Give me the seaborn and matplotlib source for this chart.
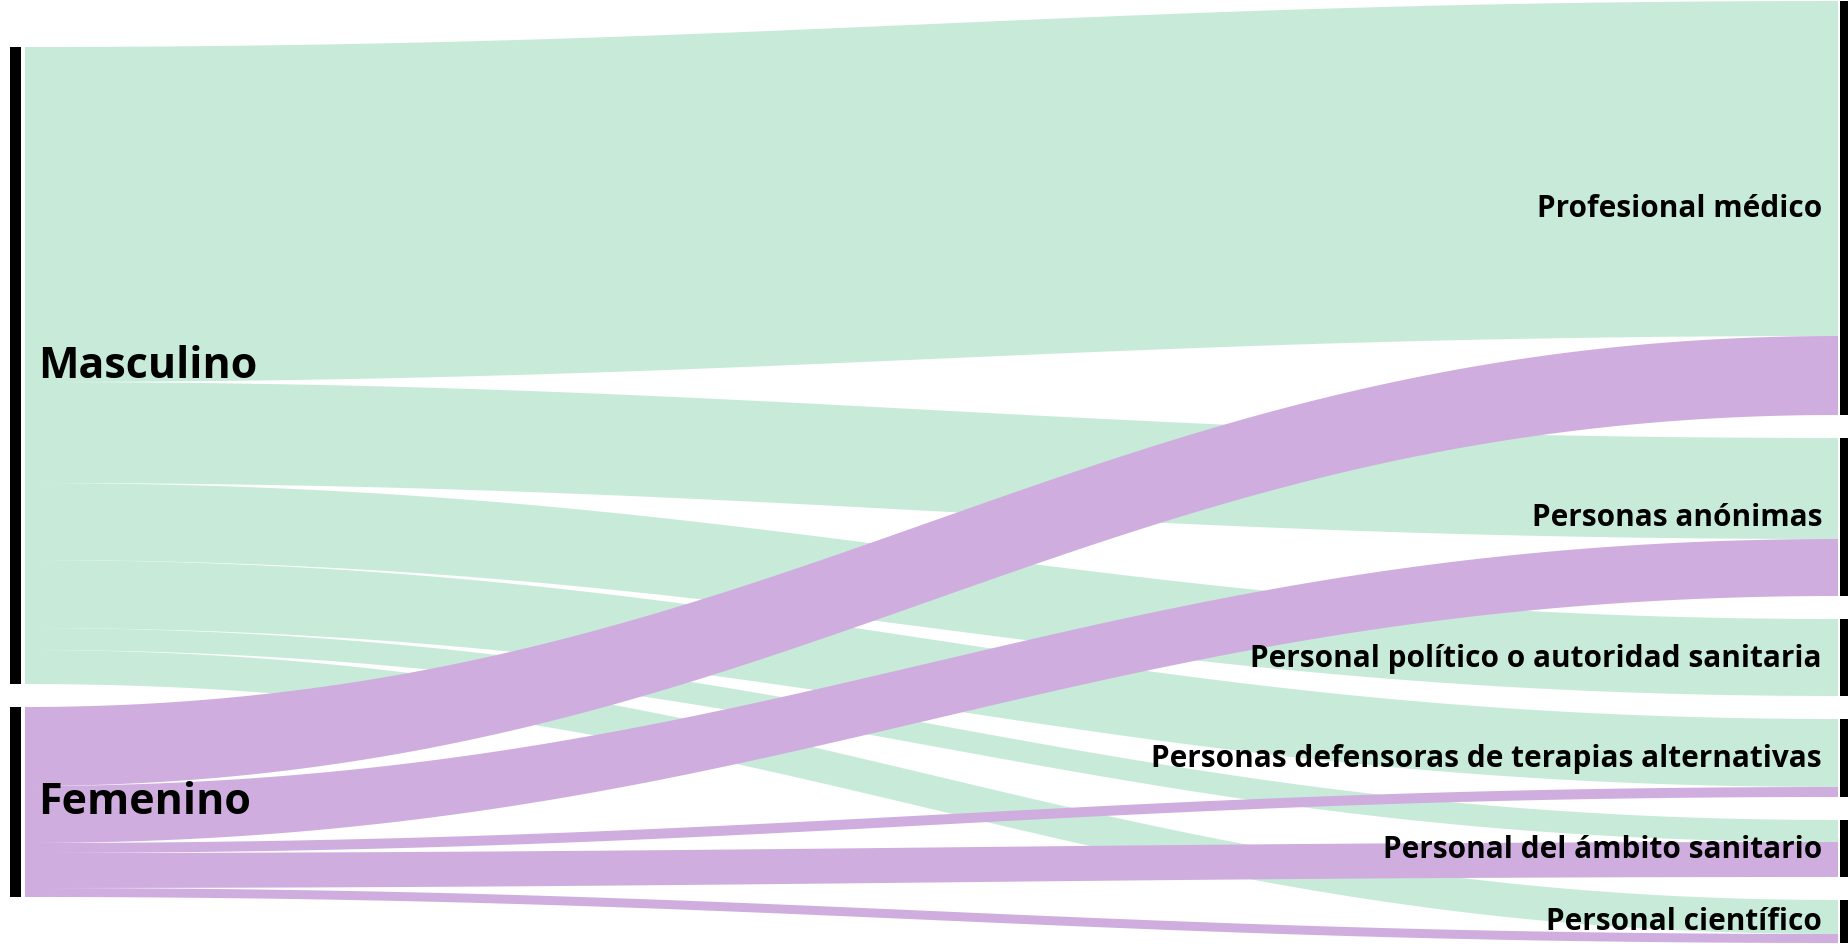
import numpy as np
import pandas as pd
import matplotlib.pyplot as plt
import seaborn as sns

# Source and target nodes of the Sankey diagram
sources = ["Masculino", "Femenino"]
targets = [
    "Profesional médico",
    "Personas anónimas",
    "Personal político o autoridad sanitaria",
    "Personas defensoras de terapias alternativas",
    "Personal del ámbito sanitario",
    "Personal científico",
]
# flow sizes (one value per target)
masculino_vals = [335, 101, 77, 68, 22, 34]
femenino_vals = [79, 57, 0, 10, 35, 9]

flows = pd.DataFrame({
    "source": ["Masculino"] * len(targets) + ["Femenino"] * len(targets),
    "target": targets * 2,
    "value": masculino_vals + femenino_vals,
})

colors = {"Masculino": "#c8ebd9", "Femenino": "#cfaedf"}

sns.set_theme(style="white")
plt.rcParams["font.family"] = ["Open Sans", "DejaVu Sans"]

W, H = 1849, 945
fig = plt.figure(figsize=(W / 100, H / 100), dpi=100)
ax = fig.add_axes([0, 0, 1, 1])
ax.set_xlim(0, W)
ax.set_ylim(H, 0)
ax.axis("off")

gap = 23
top = 2
x_left_bar, x_right_bar = 10, 1840
bar_w = 11
x0, x1 = 25, 1838

# node sizes and positions
src_tot = flows.groupby("source", sort=False)["value"].sum()
tgt_tot = flows.groupby("target", sort=False)["value"].sum()

right_span = tgt_tot.sum() + gap * (len(targets) - 1)
left_span = src_tot.sum() + gap * (len(sources) - 1)

tgt_y = {}
y = top
for t in targets:
    tgt_y[t] = y
    y += tgt_tot[t] + gap

src_y = {}
y = top + (right_span - left_span) / 2
for s in sources:
    src_y[s] = y
    y += src_tot[s] + gap

# flows: bezier ribbons
t = np.linspace(0, 1, 300)
ctrl = 0.42
ca = x0 + ctrl * (x1 - x0)
cb = x1 - ctrl * (x1 - x0)
bx = (1 - t) ** 3 * x0 + 3 * (1 - t) ** 2 * t * ca + 3 * (1 - t) * t ** 2 * cb + t ** 3 * x1


def curve(ya, yb):
    return (1 - t) ** 3 * ya + 3 * (1 - t) ** 2 * t * ya + 3 * (1 - t) * t ** 2 * yb + t ** 3 * yb


src_off = dict(src_y)
tgt_off = dict(tgt_y)
ribbons = []
for s in sources:
    for _, row in flows[flows["source"] == s].iterrows():
        v = row["value"]
        ya = src_off[s]
        yb = tgt_off[row["target"]]
        src_off[s] += v
        tgt_off[row["target"]] += v
        if v <= 0:
            continue
        ribbons.append((s, ya, yb, v))

# Masculino first, Femenino on top
for s in sources:
    for src, ya, yb, v in ribbons:
        if src != s:
            continue
        top_c = curve(ya, yb)
        bot_c = curve(ya + v, yb + v)
        ax.fill(np.concatenate([bx, bx[::-1]]),
                np.concatenate([top_c, bot_c[::-1]]),
                color=colors[s], lw=0)

# node bars
for s in sources:
    ax.add_patch(plt.Rectangle((x_left_bar, src_y[s]), bar_w, src_tot[s], color="black", lw=0))
    ax.text(38, src_y[s] + src_tot[s] / 2, s, ha="left", va="center",
            fontsize=31, fontweight="bold", color="black")
for tg in targets:
    ax.add_patch(plt.Rectangle((x_right_bar, tgt_y[tg]), bar_w, tgt_tot[tg], color="black", lw=0))
    ax.text(1822, tgt_y[tg] + tgt_tot[tg] / 2, tg, ha="right", va="center",
            fontsize=21.4, fontweight="bold", color="black")

plt.savefig("out.png", dpi=100)
plt.close()
